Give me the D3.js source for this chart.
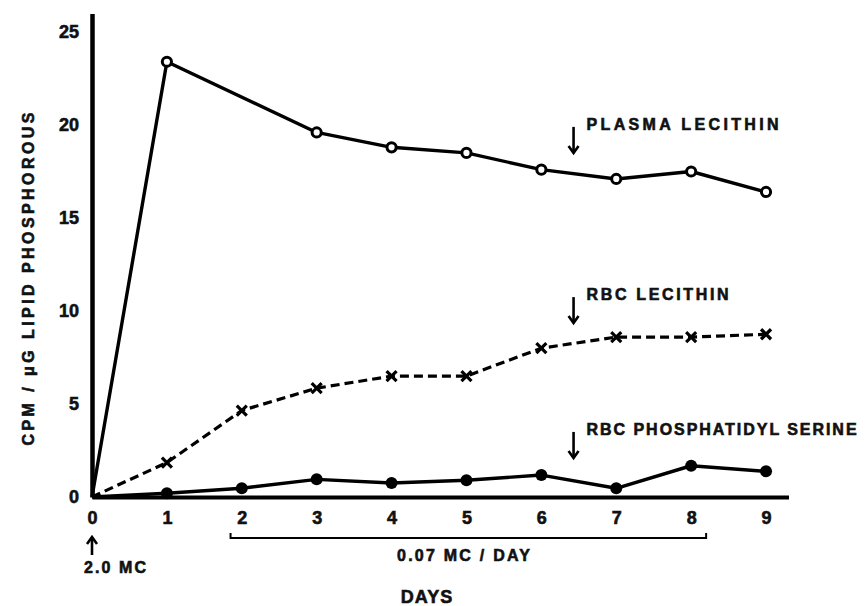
<!DOCTYPE html>
<html>
<head>
<meta charset="utf-8">
<script src="https://cdn.jsdelivr.net/npm/d3@7"></script>
<style>
  html, body { margin: 0; padding: 0; background: #fff; }
  svg { display: block; }
  text { font-family: "Liberation Sans", Arial, sans-serif; font-weight: bold; fill: #111; stroke: #111; stroke-width: 0.6px; }
</style>
</head>
<body>
<svg id="chart" width="865" height="606"></svg>
<script>
// ---- data ----
const days = [0, 1, 2, 3, 4, 5, 6, 7, 8, 9];
const plasmaLecithin = [0, 23.4, null, 19.6, 18.8, 18.5, 17.6, 17.1, 17.5, 16.4];
const rbcLecithin = [0, 1.85, 4.65, 5.85, 6.5, 6.5, 8.0, 8.6, 8.6, 8.75];
const rbcSerine = [0, 0.2, 0.47, 0.95, 0.75, 0.9, 1.18, 0.47, 1.68, 1.38];
const xTicks = [0, 1, 2, 3, 4, 5, 6, 7, 8, 9];
const yTicks = [0, 5, 10, 15, 20, 25];
const seriesLabels = ["PLASMA LECITHIN", "RBC LECITHIN", "RBC PHOSPHATIDYL SERINE"];
const labelAnchors = [[6.43, 18.5], [6.43, 9.35], [6.43, 2.1]]; // [day, value] for arrow tips
const yTitle = "CPM / \u03BCG  LIPID  PHOSPHOROUS";
const xTitle = "DAYS";
const doseInitial = "2.0 MC";
const doseDaily = "0.07 MC / DAY";
const dailyRange = [1.85, 8.2];

// ---- layout ----
const svg = d3.select("#chart");
const x = d3.scaleLinear().domain([0, 9.3]).range([92, 788.5]);
const y = d3.scaleLinear().domain([0, 26]).range([497, 13.4]);

// axes
const xAxis = svg.append("g").attr("transform", `translate(0,${y(0)})`)
  .call(d3.axisBottom(x).tickValues(xTicks).tickSize(0).tickPadding(14).tickFormat(d3.format("d")));
xAxis.select(".domain").attr("stroke", "#000").attr("stroke-width", 4);
xAxis.selectAll("text").attr("font-size", 18).style("font-family", "Liberation Sans, Arial, sans-serif").style("font-weight", "bold").attr("fill", "#111");

const yAxis = svg.append("g").attr("transform", `translate(${x(0)},0)`)
  .call(d3.axisLeft(y).tickValues(yTicks).tickSize(0).tickPadding(13).tickFormat(d3.format("d")));
yAxis.select(".domain").attr("stroke", "#000").attr("stroke-width", 4.5);
yAxis.selectAll("text").attr("font-size", 18).style("font-family", "Liberation Sans, Arial, sans-serif").style("font-weight", "bold").attr("fill", "#111");

// series
function pts(vals) { return days.map((d, i) => ({ d, v: vals[i] })).filter(p => p.v !== null); }
const line = d3.line().x(p => x(p.d)).y(p => y(p.v));

const pl = pts(plasmaLecithin), rl = pts(rbcLecithin), rs = pts(rbcSerine);

svg.append("path").datum(pl).attr("d", line).attr("fill", "none").attr("stroke", "#000").attr("stroke-width", 3.4).attr("stroke-linejoin", "round");
svg.append("path").datum(rl).attr("d", line).attr("fill", "none").attr("stroke", "#000").attr("stroke-width", 3.2).attr("stroke-dasharray", "9,5");
svg.append("path").datum(rs).attr("d", line).attr("fill", "none").attr("stroke", "#000").attr("stroke-width", 3.4).attr("stroke-linejoin", "round");

// markers
svg.selectAll(".oc").data(pl.slice(1)).enter().append("circle")
  .attr("cx", p => x(p.d)).attr("cy", p => y(p.v)).attr("r", 4.6)
  .attr("fill", "#fff").attr("stroke", "#000").attr("stroke-width", 3);
svg.selectAll(".fc").data(rs.slice(1)).enter().append("circle")
  .attr("cx", p => x(p.d)).attr("cy", p => y(p.v)).attr("r", 6).attr("fill", "#000");
const xs = 5;
svg.selectAll(".xm").data(rl.slice(1)).enter().append("path")
  .attr("d", p => { const cx = x(p.d), cy = y(p.v);
    return `M${cx - xs},${cy - xs}L${cx + xs},${cy + xs}M${cx - xs},${cy + xs}L${cx + xs},${cy - xs}`; })
  .attr("stroke", "#000").attr("stroke-width", 3.2);

// arrow helper (downward/upward arrows)
function arrow(cx, yTop, yBot, up) {
  const g = svg.append("g");
  g.append("line").attr("x1", cx).attr("x2", cx).attr("y1", yTop).attr("y2", yBot).attr("stroke", "#000").attr("stroke-width", 2.6);
  const tip = up ? yTop : yBot, s = up ? 1 : -1;
  g.append("path").attr("d", `M${cx - 5},${tip + s * 7}L${cx},${tip}L${cx + 5},${tip + s * 7}`)
    .attr("fill", "none").attr("stroke", "#000").attr("stroke-width", 2.6);
}

// series labels with arrows
const labelWidths = [192, 142, 270];
seriesLabels.forEach((t, i) => {
  const [d, v] = labelAnchors[i];
  const cx = x(d), tipY = y(v);
  arrow(cx, tipY - 26, tipY, false);
  svg.append("text").attr("x", cx + 13).attr("y", tipY - 23)
    .attr("font-size", 16).attr("textLength", labelWidths[i]).attr("lengthAdjust", "spacing").text(t);
});

// y-axis title
svg.append("text").attr("transform", `translate(34,279) rotate(-90)`)
  .attr("text-anchor", "middle").attr("font-size", 16).attr("textLength", 333).attr("lengthAdjust", "spacing").text(yTitle);

// initial dose
arrow(x(0), 537, 555, true);
svg.append("text").attr("x", x(0) - 8).attr("y", 573).attr("font-size", 16).attr("textLength", 62).attr("lengthAdjust", "spacing").text(doseInitial);

// daily dose bracket
const bx1 = x(dailyRange[0]), bx2 = x(dailyRange[1]), by = 538;
svg.append("path").attr("d", `M${bx1},${by - 5}V${by}H${bx2}V${by - 5}`)
  .attr("fill", "none").attr("stroke", "#000").attr("stroke-width", 2);
svg.append("text").attr("x", 397).attr("y", 561).attr("font-size", 16).attr("textLength", 133).attr("lengthAdjust", "spacing").text(doseDaily);

// x title
svg.append("text").attr("x", 427).attr("y", 603).attr("text-anchor", "middle").attr("font-size", 18).attr("letter-spacing", 1).text(xTitle);
</script>
</body>
</html>
